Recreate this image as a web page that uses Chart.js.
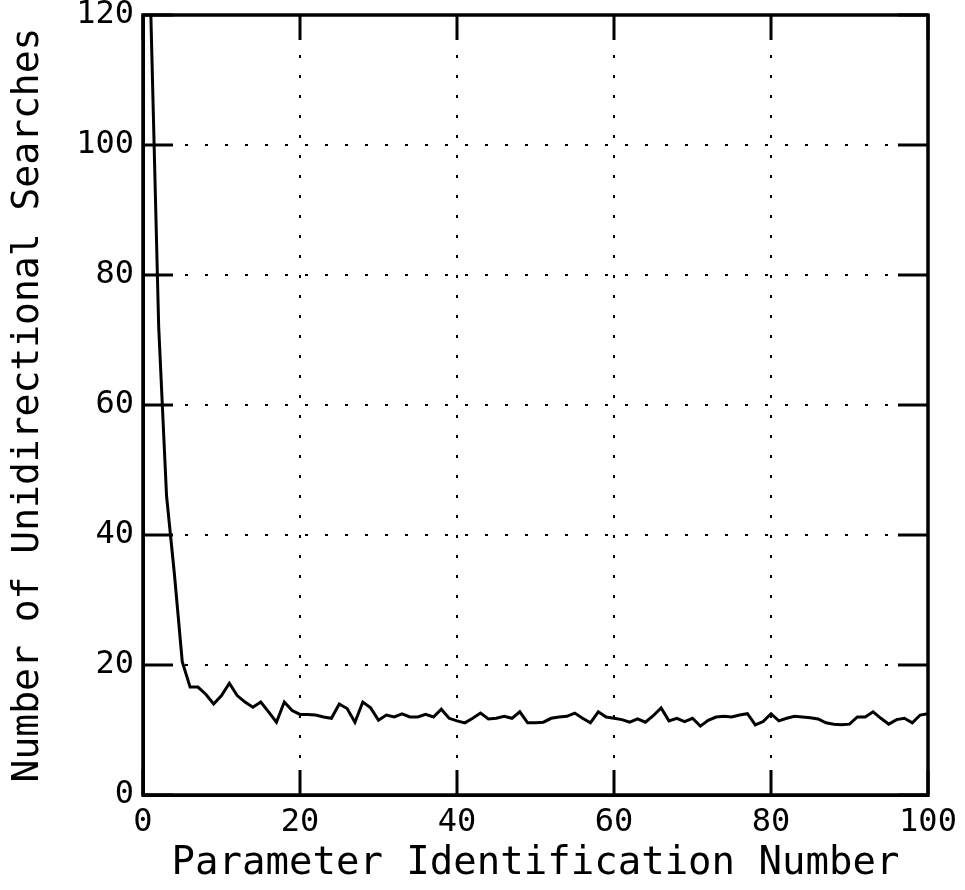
<!DOCTYPE html>
<html><head><meta charset="utf-8">
<script src="https://cdn.jsdelivr.net/npm/chart.js@4/dist/chart.umd.min.js"></script>
<style>html,body{margin:0;padding:0;background:#fff}#wrap{width:965px;height:890px}</style>
</head><body><div id="wrap"><canvas id="c" width="965" height="890"></canvas></div>
<script>
const paramIds = [1,2,3,4,5,6,7,8,9,10,11,12,13,14,15,16,17,18,19,20,21,22,23,24,25,26,27,28,29,30,31,32,33,34,35,36,37,38,39,40,41,42,43,44,45,46,47,48,49,50,51,52,53,54,55,56,57,58,59,60,61,62,63,64,65,66,67,68,69,70,71,72,73,74,75,76,77,78,79,80,81,82,83,84,85,86,87,88,89,90,91,92,93,94,95,96,97,98,99,100];
const searches = [120,72,46,34,20.5,16.6,16.6,15.5,14,15.3,17.2,15.3,14.3,13.5,14.3,12.8,11.2,14.3,13,12.4,
12.4,12.3,12,11.8,14,13.3,11.2,14.3,13.4,11.5,12.3,12,12.5,12,12,12.4,12,13.2,11.8,11.4,
11.1,11.8,12.6,11.7,11.8,12.1,11.8,12.8,11.1,11.1,11.2,11.8,12,12.1,12.6,11.8,11.1,12.8,12,11.8,
11.6,11.2,11.7,11.2,12.2,13.4,11.4,11.8,11.3,11.8,10.6,11.5,12,12.1,12,12.3,12.5,10.8,11.3,12.5,
11.4,11.8,12.1,12,11.9,11.7,11.1,10.9,10.8,10.9,12,12,12.8,11.8,10.9,11.6,11.8,11.1,12.3,12.5];
const xTickValues = [0,20,40,60,80,100];
const yTickValues = [0,20,40,60,80,100,120];
const xTitle = 'Parameter Identification Number';
const yTitle = 'Number of Unidirectional Searches';

const FONT = 'DejaVu Sans Mono';

const frameTicks = {
  id: 'frameTicks',
  afterDraw(chart) {
    const {ctx, chartArea: a, scales: {x, y}} = chart;
    ctx.save();
    ctx.strokeStyle = '#000';
    ctx.lineWidth = 3.5;
    ctx.strokeRect(a.left, a.top, a.right - a.left, a.bottom - a.top);
    ctx.lineWidth = 3;
    ctx.beginPath();
    x.ticks.forEach(t => {
      const px = x.getPixelForValue(t.value);
      ctx.moveTo(px, a.bottom); ctx.lineTo(px, a.bottom - 25);
      ctx.moveTo(px, a.top); ctx.lineTo(px, a.top + 25);
    });
    y.ticks.forEach(t => {
      const py = y.getPixelForValue(t.value);
      ctx.moveTo(a.left, py); ctx.lineTo(a.left + 30, py);
      ctx.moveTo(a.right, py); ctx.lineTo(a.right - 30, py);
    });
    ctx.stroke();
    ctx.restore();
  }
};

new Chart(document.getElementById('c'), {
  type: 'line',
  data: {
    datasets: [{
      data: paramIds.map((id, i) => ({x: id, y: searches[i]})),
      borderColor: '#000',
      borderWidth: 3,
      pointRadius: 0,
      tension: 0,
      fill: false
    }]
  },
  options: {
    responsive: false,
    animation: false,
    devicePixelRatio: 1,
    layout: {padding: {top: 15, right: 37, bottom: 0, left: 0}},
    plugins: {legend: {display: false}, tooltip: {enabled: false}},
    scales: {
      x: {
        type: 'linear', min: 0, max: 100,
        afterBuildTicks: s => { s.ticks = xTickValues.map(v => ({value: v})); },
        afterFit: s => { s.height = 95; s.paddingLeft = 0; s.paddingRight = 0; },
        ticks: {font: {family: FONT, size: 32}, color: '#000', padding: 8, maxRotation: 0, autoSkip: false},
        grid: {color: '#000', lineWidth: 2, drawTicks: false},
        border: {display: true, color: '#000', width: 3, dash: [3, 17]},
        title: {display: true, text: xTitle, color: '#000', font: {family: FONT, size: 39}, padding: {top: 0, bottom: 3}}
      },
      y: {
        type: 'linear', min: 0, max: 120,
        afterBuildTicks: s => { s.ticks = yTickValues.map(v => ({value: v})); },
        afterFit: s => { s.width = 143; s.paddingTop = 0; s.paddingBottom = 0; },
        ticks: {font: {family: FONT, size: 32}, color: '#000', padding: 9, autoSkip: false},
        grid: {color: '#000', lineWidth: 2, drawTicks: false},
        border: {display: true, color: '#000', width: 3, dash: [3, 17]},
        title: {display: true, text: yTitle, color: '#000', font: {family: FONT, size: 38}, padding: {top: 5, bottom: 0}}
      }
    }
  },
  plugins: [frameTicks]
});
</script>
</body></html>
